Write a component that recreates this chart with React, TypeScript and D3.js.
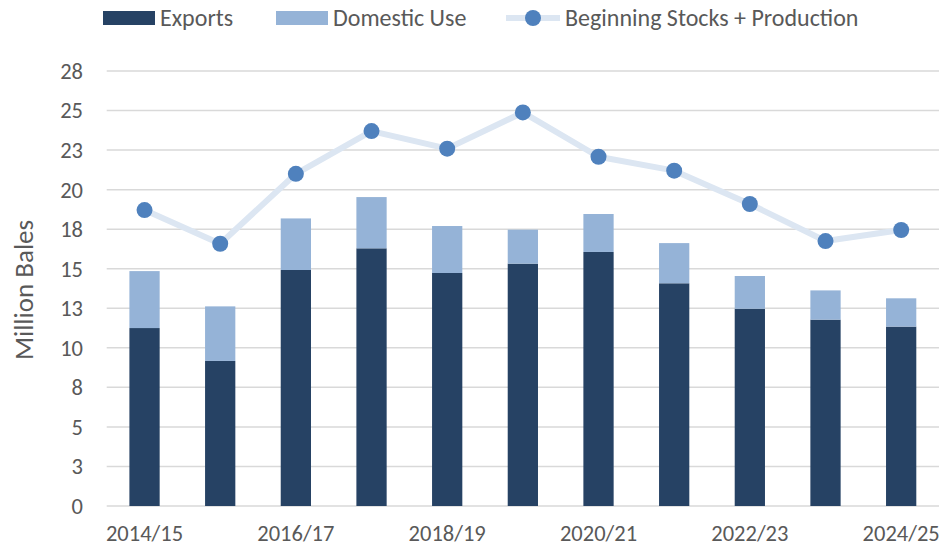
import React from "react";
import * as d3 from "d3";

const categories = ["2014/15","2015/16","2016/17","2017/18","2018/19","2019/20","2020/21","2021/22","2022/23","2023/24","2024/25"];
const exportsVals = [11.25, 9.17, 14.92, 16.29, 14.73, 15.32, 16.06, 14.08, 12.47, 11.78, 11.34];
const domesticVals = [3.6, 3.45, 3.26, 3.24, 2.97, 2.15, 2.4, 2.54, 2.07, 1.85, 1.79];
const supplyVals = [18.71, 16.58, 21.0, 23.7, 22.59, 24.88, 22.08, 21.2, 19.09, 16.75, 17.45];
const yTicks = [0, 2.5, 5, 7.5, 10, 12.5, 15, 17.5, 20, 22.5, 25, 27.5];

const W = 945, H = 548;
const FONT = "Carlito, Lato, 'Open Sans', sans-serif";
const C_EXP = "#264264";
const C_DOM = "#95b3d7";
const C_LINE = "#dce6f2";
const C_MARK = "#4f81bd";
const TXT = "#595959";

export default function App() {
  const x = d3.scaleBand<string>().domain(categories).range([106.7, 939]).paddingInner(0.6).paddingOuter(0.3);
  const y = d3.scaleLinear().domain([0, 27.5]).range([506, 71]);
  const bw = x.bandwidth();
  const cx = (c: string) => (x(c) as number) + bw / 2;
  const line = d3.line<number>().x((_, i) => cx(categories[i])).y((v) => y(v));
  const fmt = (v: number) => String(Math.round(v + 0.001));

  return (
    <svg width={W} height={H} style={{ position: "absolute", left: 0, top: 0, background: "#fff" }} fontFamily={FONT}>
      {yTicks.map((t) => (
        <g key={t}>
          <line x1={106.7} x2={939} y1={y(t)} y2={y(t)} stroke="#d9d9d9" strokeWidth={1.5} />
          <text x={83} y={y(t)} dy="0.35em" textAnchor="end" fontSize={22.5} fill={TXT}>{fmt(t)}</text>
        </g>
      ))}
      <text transform={`translate(33,${290}) rotate(-90)`} textAnchor="middle" fontSize={27} fill={TXT}>Million Bales</text>
      {categories.map((c, i) => (
        <g key={c}>
          <rect x={x(c)} y={y(exportsVals[i])} width={bw} height={y(0) - y(exportsVals[i])} fill={C_EXP} />
          <rect x={x(c)} y={y(exportsVals[i] + domesticVals[i])} width={bw} height={y(exportsVals[i]) - y(exportsVals[i] + domesticVals[i])} fill={C_DOM} />
        </g>
      ))}
      <path d={line(supplyVals) || ""} fill="none" stroke={C_LINE} strokeWidth={6} strokeLinejoin="round" />
      {supplyVals.map((v, i) => (
        <circle key={i} cx={cx(categories[i])} cy={y(v)} r={8} fill={C_MARK} />
      ))}
      {categories.map((c, i) => i % 2 === 0 ? (
        <text key={c} x={cx(c)} y={541} textAnchor="middle" fontSize={22.5} fill={TXT}>{c}</text>
      ) : null)}
      <g>
        <rect x={103} y={11} width={52} height={14} fill={C_EXP} />
        <text x={160} y={18} dy="0.35em" fontSize={24} fill={TXT}>Exports</text>
        <rect x={276} y={11} width={52} height={14} fill={C_DOM} />
        <text x={333} y={18} dy="0.35em" fontSize={24} fill={TXT}>Domestic Use</text>
        <line x1={506} x2={560} y1={18} y2={18} stroke={C_LINE} strokeWidth={6} />
        <circle cx={533} cy={18} r={8} fill={C_MARK} />
        <text x={565} y={18} dy="0.35em" fontSize={24} fill={TXT}>Beginning Stocks + Production</text>
      </g>
    </svg>
  );
}
